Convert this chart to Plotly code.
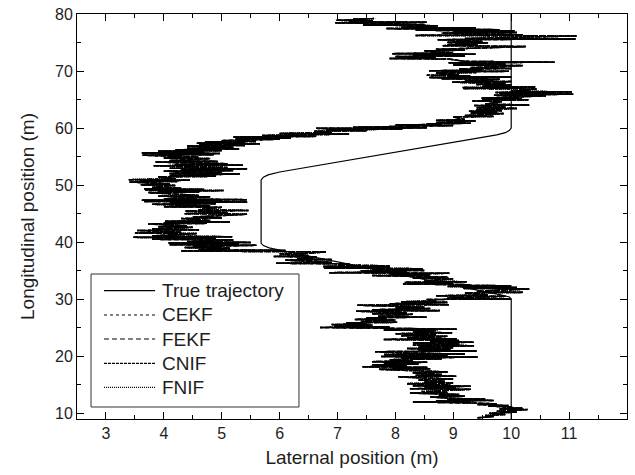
import plotly.graph_objects as go

# True vehicle trajectory (lateral x, longitudinal y), in metres
true_x = [10.0, 10.0, 9.97, 9.8, 6.0, 5.82, 5.72, 5.68, 5.68, 5.72, 5.8, 6.0, 9.75, 9.9, 9.97, 10.0, 10.0]
true_y = [9.0, 30.0, 30.4, 30.8, 38.6, 39.0, 39.4, 39.8, 50.9, 51.4, 51.8, 52.3, 58.8, 59.2, 59.6, 60.0, 80.0]

# Estimated trajectory (the four filters coincide at this scale)
est_points = [
    (9.42, 9.2), (9.70, 9.45), (9.55, 9.6), (9.90, 9.8),
    (9.62, 10.0), (10.10, 10.2), (9.75, 10.35),
    (10.28, 10.65), (9.80, 10.75), (10.20, 10.9), (9.85, 11.0),
    (10.02, 11.15), (9.60, 11.25), (9.95, 11.35),
    (9.42, 11.55), (9.75, 11.65), (9.30, 11.8),
    (8.30, 12.0), (9.30, 12.05), (8.70, 12.15), (9.70, 12.25),
    (8.90, 12.4), (9.55, 12.5), (9.00, 12.6),
    (8.60, 12.85), (9.20, 13.0), (8.75, 13.15), (9.10, 13.3),
    (8.25, 13.55), (8.90, 13.65), (8.45, 13.8),
    (9.30, 14.2), (8.25, 14.3), (9.05, 14.45), (8.50, 14.55),
    (9.30, 14.75), (8.30, 14.85), (8.95, 14.95),
    (8.20, 15.2), (9.00, 15.3), (8.50, 15.45), (8.85, 15.6),
    (8.40, 15.85), (9.00, 16.0), (8.55, 16.15),
    (8.05, 16.4), (9.05, 16.5), (8.35, 16.65), (8.80, 16.8),
    (8.30, 17.1), (8.90, 17.25), (8.45, 17.4),
    (7.72, 17.7), (8.60, 17.8), (7.95, 17.95),
    (8.55, 18.05), (7.43, 18.15), (8.20, 18.3),
    (7.60, 18.5), (8.40, 18.6), (7.80, 18.75),
    (8.55, 18.95), (7.60, 19.05), (8.30, 19.2),
    (7.90, 19.4), (8.80, 19.55), (8.10, 19.7),
    (9.42, 19.85), (7.75, 19.95), (8.90, 20.05),
    (7.80, 20.3), (9.20, 20.4), (8.20, 20.55),
    (7.65, 20.8), (9.40, 20.9), (8.40, 21.05), (8.95, 21.2),
    (8.20, 21.35), (9.00, 21.5), (8.40, 21.65),
    (9.36, 21.85), (8.30, 21.95), (9.10, 22.1),
    (8.30, 22.35), (9.35, 22.45), (8.60, 22.6), (9.10, 22.75),
    (7.80, 22.95), (9.06, 23.05), (8.20, 23.2),
    (8.90, 23.5), (8.10, 23.6), (8.70, 23.75),
    (8.00, 23.95), (8.98, 24.1), (8.30, 24.25),
    (8.70, 24.5), (7.80, 24.6), (9.06, 24.75),
    (6.70, 25.05), (7.90, 25.15), (6.95, 25.3),
    (7.60, 25.45), (6.90, 25.55), (7.50, 25.7),
    (7.15, 25.85), (8.03, 25.95), (7.40, 26.1),
    (8.00, 26.35), (7.30, 26.45), (7.85, 26.6),
    (7.50, 26.75), (8.54, 26.85), (7.70, 27.0),
    (8.30, 27.35), (7.60, 27.45), (8.20, 27.6),
    (7.32, 27.9), (8.77, 28.0), (7.60, 28.15),
    (8.60, 28.35), (8.00, 28.45), (8.50, 28.6),
    (7.34, 28.95), (8.92, 29.05), (7.90, 29.2),
    (8.90, 29.45), (8.10, 29.55), (8.70, 29.7),
    (8.54, 29.95), (10.00, 30.05), (8.90, 30.2),
    (9.90, 30.5), (8.70, 30.6), (9.60, 30.75),
    (9.20, 31.1), (10.20, 31.2), (9.40, 31.35),
    (10.31, 31.8), (9.17, 31.9), (10.10, 32.05),
    (8.90, 32.25), (10.00, 32.35), (9.10, 32.45),
    (9.29, 32.55), (8.13, 32.65), (9.00, 32.8),
    (8.16, 32.95), (9.23, 33.05), (8.50, 33.2),
    (9.00, 33.6), (8.30, 33.7), (8.90, 33.85),
    (7.60, 34.15), (8.60, 34.25), (7.90, 34.4),
    (8.93, 34.55), (6.86, 34.65), (8.20, 34.8),
    (7.40, 34.95), (8.50, 35.05), (7.60, 35.2),
    (8.47, 35.35), (6.77, 35.45), (7.90, 35.6),
    (6.75, 35.75), (7.90, 35.85), (7.00, 36.0),
    (7.21, 36.2), (5.94, 36.3), (6.90, 36.45),
    (6.10, 36.85), (6.90, 36.95), (6.30, 37.1),
    (6.64, 37.4), (5.90, 37.5), (6.50, 37.65),
    (6.00, 37.95), (6.50, 38.05), (6.80, 38.3),
    (4.30, 38.45), (6.10, 38.55), (4.60, 38.7),
    (5.14, 38.95), (4.36, 39.05), (5.00, 39.15), (4.50, 39.25),
    (5.60, 39.45), (4.10, 39.55), (5.30, 39.7),
    (4.08, 39.85), (5.50, 39.95), (4.40, 40.1),
    (5.20, 40.4), (3.80, 40.5), (4.90, 40.65),
    (3.47, 40.85), (5.18, 40.95), (3.80, 41.1),
    (4.57, 41.5), (3.50, 41.6), (4.30, 41.75),
    (3.54, 42.05), (4.61, 42.15), (3.80, 42.3),
    (4.50, 42.6), (3.90, 42.7), (4.40, 42.85),
    (3.73, 43.2), (4.74, 43.3), (4.00, 43.4),
    (5.14, 43.55), (4.02, 43.65), (4.80, 43.8),
    (4.30, 44.15), (5.00, 44.25), (4.50, 44.4),
    (5.44, 44.9), (4.36, 45.0), (5.10, 45.15),
    (4.37, 45.45), (5.46, 45.55), (4.60, 45.7),
    (5.00, 46.1), (4.00, 46.2), (4.80, 46.35),
    (3.80, 46.65), (4.90, 46.75), (4.10, 46.9),
    (5.44, 47.05), (3.66, 47.15), (5.00, 47.25),
    (3.62, 47.35), (5.43, 47.45), (4.00, 47.6),
    (4.80, 47.95), (3.90, 48.05), (4.60, 48.2),
    (3.73, 48.7), (4.61, 48.8), (3.90, 48.9),
    (5.03, 49.05), (3.68, 49.15), (4.70, 49.25),
    (3.66, 49.35), (4.30, 49.45), (3.80, 49.6),
    (4.20, 49.95), (3.60, 50.05), (4.10, 50.2),
    (3.41, 50.55), (4.23, 50.65), (3.60, 50.75),
    (4.45, 50.85), (3.39, 50.95), (4.20, 51.1),
    (3.90, 51.45), (4.90, 51.55), (4.10, 51.7),
    (5.31, 51.95), (4.10, 52.05), (5.00, 52.2),
    (4.00, 52.45), (5.20, 52.55), (4.30, 52.7),
    (5.44, 52.85), (4.10, 52.95), (5.10, 53.1),
    (3.82, 53.4), (5.37, 53.5), (4.20, 53.6), (5.10, 53.75),
    (3.85, 54.05), (4.93, 54.15), (4.10, 54.3),
    (4.80, 54.65), (4.00, 54.75), (4.60, 54.9),
    (3.63, 55.25), (4.87, 55.35), (3.90, 55.45),
    (4.97, 55.55), (3.62, 55.65), (4.70, 55.8),
    (3.90, 55.95), (5.00, 56.05), (4.20, 56.2),
    (5.30, 56.35), (4.40, 56.45), (5.20, 56.6),
    (4.40, 56.85), (5.40, 56.95), (4.60, 57.1),
    (5.66, 57.25), (4.57, 57.35), (5.40, 57.45),
    (4.71, 57.55), (5.60, 57.65), (5.00, 57.8),
    (6.00, 58.05), (5.24, 58.15), (6.20, 58.25),
    (5.20, 58.45), (6.63, 58.55), (5.70, 58.7),
    (7.20, 58.95), (6.00, 59.05), (6.90, 59.2),
    (6.60, 59.45), (7.50, 59.55), (6.80, 59.65),
    (8.12, 59.85), (6.63, 59.95), (8.54, 60.05), (7.27, 60.15),
    (9.00, 60.45), (8.00, 60.55), (8.80, 60.65),
    (8.54, 60.75), (9.30, 60.85), (8.70, 60.95),
    (9.39, 61.25), (8.70, 61.35), (9.20, 61.5),
    (9.00, 61.95), (9.70, 62.05), (9.20, 62.2),
    (9.87, 62.55), (9.30, 62.65), (9.75, 62.8),
    (9.27, 62.95), (9.84, 63.05), (9.40, 63.2),
    (10.10, 63.45), (9.40, 63.55), (9.90, 63.7),
    (9.36, 63.95), (10.31, 64.05), (9.55, 64.2),
    (9.84, 64.65), (9.33, 64.75), (9.70, 64.85),
    (10.30, 64.95), (9.50, 65.05), (10.18, 65.2),
    (9.49, 65.25), (9.90, 65.35),
    (10.60, 65.65), (9.70, 65.75), (10.30, 65.85),
    (11.07, 65.95), (9.80, 66.05), (10.70, 66.15),
    (9.73, 66.25), (11.05, 66.35), (10.00, 66.45),
    (10.44, 66.85), (9.17, 66.95), (10.20, 67.05),
    (9.16, 67.1), (10.42, 67.2), (9.50, 67.3),
    (10.00, 67.55), (9.40, 67.65), (9.90, 67.8),
    (8.98, 68.05), (10.00, 68.15), (9.20, 68.25),
    (9.80, 68.55), (8.80, 68.65), (9.60, 68.8),
    (8.58, 68.85), (10.00, 68.95), (8.90, 69.05),
    (9.30, 69.15), (8.54, 69.25), (9.10, 69.35),
    (8.70, 69.65), (9.40, 69.75), (8.80, 69.85),
    (9.96, 69.95), (8.58, 70.05), (9.50, 70.15),
    (9.10, 70.35), (10.00, 70.45), (9.30, 70.6),
    (10.20, 70.95), (9.00, 71.05), (9.90, 71.2),
    (8.92, 71.45), (10.75, 71.55), (9.20, 71.7),
    (8.92, 72.1), (7.90, 72.2), (8.70, 72.3),
    (8.00, 72.55), (9.20, 72.65), (8.30, 72.8),
    (9.39, 72.95), (7.95, 73.05), (9.00, 73.2),
    (8.50, 73.55), (9.20, 73.65), (8.70, 73.8),
    (10.25, 74.3), (8.81, 74.45), (9.42, 74.55), (8.90, 74.65),
    (9.60, 74.95), (8.90, 75.05), (9.50, 75.2),
    (8.73, 75.5), (11.11, 75.6), (9.20, 75.7),
    (11.13, 76.15), (8.35, 76.25), (10.20, 76.35),
    (8.80, 76.65), (10.10, 76.75), (9.00, 76.85),
    (10.06, 77.05), (8.35, 77.15), (9.80, 77.25),
    (7.84, 77.45), (9.39, 77.55), (8.10, 77.65),
    (8.73, 77.95), (7.44, 78.05), (8.50, 78.15),
    (6.96, 78.45), (8.54, 78.55), (7.20, 78.65),
    (7.61, 78.8), (6.98, 78.9), (7.50, 79.0),
    (7.27, 79.1), (7.65, 79.2),
]
est_x = [p[0] for p in est_points]
est_y = [p[1] for p in est_points]

series_names = ["True trajectory", "CEKF", "FEKF", "CNIF", "FNIF"]
series_dash = ["solid", "dot", "5px,3px", "3px,1px", "1px,1px"]

FONT = "Liberation Sans, Arial, Helvetica, sans-serif"
TEXT = "#1e1e1e"

fig = go.Figure()
fig.add_trace(go.Scatter(
    x=true_x, y=true_y, mode="lines", name=series_names[0],
    line=dict(color="black", width=1.2),
))
for name, dash in zip(series_names[1:], series_dash[1:]):
    fig.add_trace(go.Scatter(
        x=est_x, y=est_y, mode="lines", name=name,
        line=dict(color="black", width=1.5, dash=dash),
    ))

# Boxed legend drawn in plot-area (paper) coordinates
box = dict(x0=0.0255, x1=0.4036, y0=0.0296, y1=0.358)
row_y = [0.3168, 0.2568, 0.1975, 0.1375, 0.0783]
fig.add_shape(type="rect", xref="paper", yref="paper", layer="above",
              line=dict(color="#333333", width=1), fillcolor="white", **box)
for name, dash, ry in zip(series_names, series_dash, row_y):
    fig.add_shape(type="line", xref="paper", yref="paper", layer="above",
                  x0=0.049, x1=0.142, y0=ry, y1=ry,
                  line=dict(color="black", width=1.2, dash=dash))
    fig.add_annotation(xref="paper", yref="paper", x=0.151, y=ry,
                       xanchor="left", yanchor="middle", showarrow=False,
                       text=name, font=dict(family=FONT, size=19, color=TEXT))

axis_common = dict(
    showline=True, linecolor="black", linewidth=1, mirror="ticks",
    ticks="inside", ticklen=7, tickcolor="black", tickwidth=1,
    showgrid=False, zeroline=False, automargin=False,
    tickfont=dict(family=FONT, size=16, color=TEXT),
)

fig.update_layout(
    width=635, height=475,
    margin=dict(l=77, r=8, t=14, b=56),
    paper_bgcolor="white", plot_bgcolor="white",
    font=dict(family=FONT, color=TEXT),
    showlegend=False,
)
fig.update_xaxes(
    range=[2.5, 12], tick0=3, dtick=1,
    minor=dict(ticks="inside", ticklen=4, dtick=0.5, tickcolor="black"),
    title=dict(text="Laternal position (m)", font=dict(family=FONT, size=19, color=TEXT), standoff=9),
    **axis_common,
)
fig.update_yaxes(
    range=[9, 80], tick0=10, dtick=10,
    minor=dict(ticks="inside", ticklen=4, dtick=5, tickcolor="black"),
    title=dict(text="Longitudinal position (m)", font=dict(family=FONT, size=19, color=TEXT), standoff=15),
    **axis_common,
)

fig.write_html("out.html")
